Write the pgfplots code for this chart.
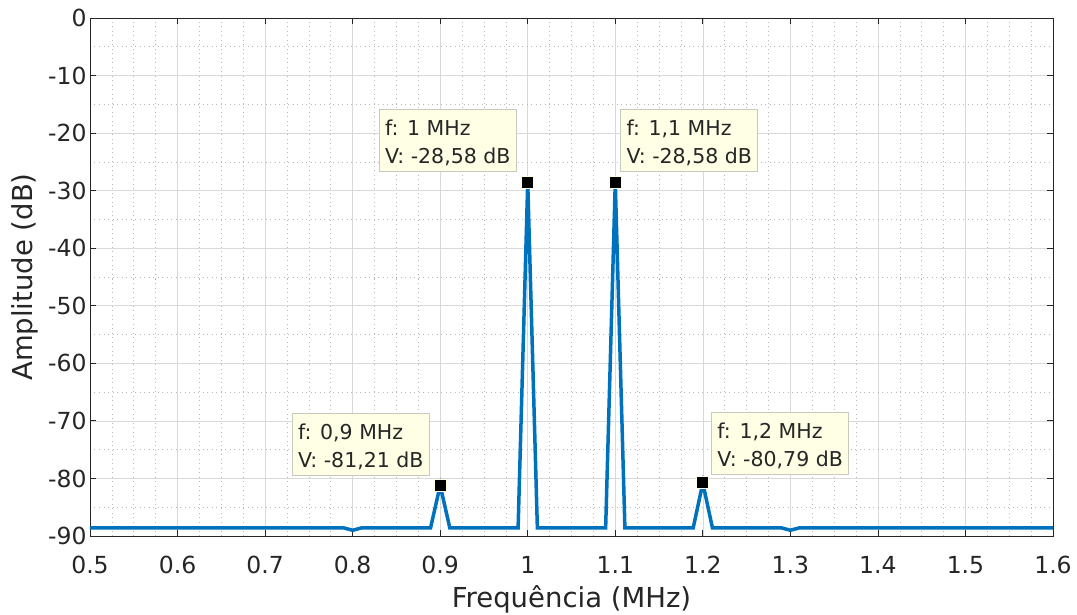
\documentclass[border=0pt]{standalone}
\usepackage{pgfplots}
\pgfplotsset{compat=1.18}
\usepackage{fontspec}
\setmainfont{DejaVu Sans}
\definecolor{mblue}{RGB}{0,114,189}
\definecolor{axgray}{RGB}{38,38,38}
\definecolor{tipfill}{RGB}{255,255,230}
\definecolor{tipedge}{RGB}{200,200,190}
\begin{document}
\begin{tikzpicture}[x=1pt,y=1pt]
\useasboundingbox (0,0) rectangle (1077,614);
\begin{axis}[
  at={(90pt,78pt)}, anchor=south west,
  scale only axis, width=963pt, height=518pt,
  xmin=0.5, xmax=1.6, ymin=-90, ymax=0,
  xtick={0.5,0.6,...,1.6},
  ytick={-90,-80,...,0},
  minor x tick num=3, minor y tick num=1,
  /pgf/number format/assume math mode=true,
  tick label style={font=\fontsize{23.5}{27}\selectfont, text=axgray},
  xticklabel style={/pgf/number format/fixed, /pgf/number format/precision=1, yshift=-17pt},
  label style={font=\fontsize{27.5}{31}\selectfont, text=axgray},
  xlabel={Frequência (MHz)}, ylabel={Amplitude (dB)},
  xlabel style={yshift=-4pt},
  ylabel style={yshift=3pt},
  tick align=inside, axis line style={axgray, line width=0.8pt},
  major tick style={axgray, line width=0.8pt},
  major tick length=6pt, minor tick length=0pt,
  grid=both,
  major grid style={draw=black!15, line width=0.6pt},
  minor grid style={draw=black!28, dash pattern=on 1pt off 3.5pt, line width=0.6pt},
  clip=false,
]
\addplot[mblue, line width=3.5pt] coordinates {
(0.5,-88.6) (0.79,-88.6) (0.8,-89.0) (0.81,-88.6)
(0.889,-88.6) (0.9,-81.21) (0.911,-88.6)
(0.989,-88.6) (1.0,-28.58) (1.011,-88.6)
(1.089,-88.6) (1.1,-28.58) (1.111,-88.6)
(1.189,-88.6) (1.2,-80.79) (1.211,-88.6)
(1.29,-88.6) (1.3,-89.0) (1.31,-88.6) (1.6,-88.6)
};
\addplot[only marks, mark=square*, mark size=6pt, mark options={fill=black, draw=tipfill, line width=1pt}] coordinates {
(0.9,-81.21) (1.0,-28.58) (1.1,-28.58) (1.2,-80.79)
};
\tikzset{tip/.style={draw=tipedge, fill=tipfill, line width=1pt, align=left, inner xsep=6pt, inner ysep=6pt, font=\fontsize{20.5}{28}\selectfont, text=axgray}}
\node[tip, anchor=south east] at (axis cs:0.8884,-79.6) {\rule{0pt}{20pt}f: 0,9 MHz\\V: -81,21 dB\rule[-2pt]{0pt}{0pt}};
\node[tip, anchor=south east] at (axis cs:0.9877,-26.76) {\rule{0pt}{20pt}f: 1 MHz\\V: -28,58 dB\rule[-2pt]{0pt}{0pt}};
\node[tip, anchor=south west] at (axis cs:1.1054,-26.76) {\rule{0pt}{20pt}f: 1,1 MHz\\V: -28,58 dB\rule[-2pt]{0pt}{0pt}};
\node[tip, anchor=south west] at (axis cs:1.2093,-79.4) {\rule{0pt}{20pt}f: 1,2 MHz\\V: -80,79 dB\rule[-2pt]{0pt}{0pt}};
\end{axis}
\end{tikzpicture}
\end{document}
